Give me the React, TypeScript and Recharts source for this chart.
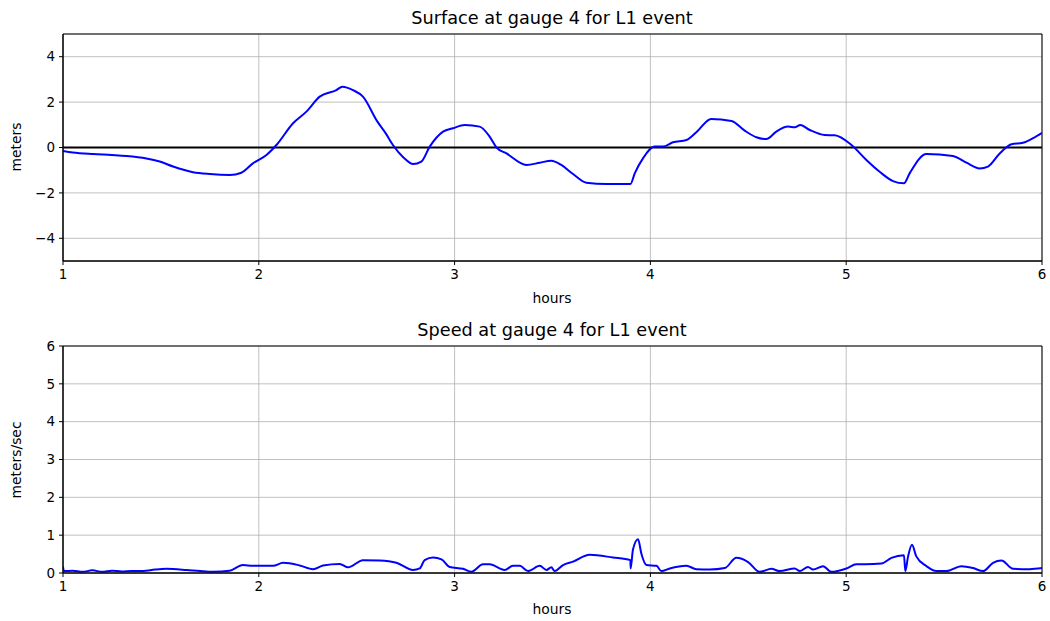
import {
  LineChart,
  Line,
  XAxis,
  YAxis,
  CartesianGrid,
  ReferenceLine,
  ReferenceArea,
} from "recharts";

// surface elevation (hours, meters)
const surfaceHours = [
  1.0, 1.05, 1.153, 1.25, 1.324, 1.426, 1.494, 1.562, 1.664, 1.75, 1.852, 1.911,
  1.97, 2.039, 2.09, 2.175, 2.243, 2.311, 2.396, 2.427, 2.481, 2.532, 2.605, 2.65,
  2.685, 2.74, 2.788, 2.83, 2.873, 2.941, 2.992, 3.052, 3.128, 3.179, 3.213, 3.265,
  3.367, 3.435, 3.494, 3.545, 3.605, 3.673, 3.775, 3.898, 3.92, 3.962, 4.022, 4.064,
  4.115, 4.184, 4.24, 4.31, 4.414, 4.482, 4.541, 4.592, 4.643, 4.703, 4.737, 4.766,
  4.814, 4.89, 4.941, 5.027, 5.103, 5.171, 5.239, 5.295, 5.324, 5.41, 5.545, 5.614,
  5.682, 5.724, 5.784, 5.844, 5.903, 5.954, 6.0,
];
const surfaceLevel = [
  -0.15, -0.22, -0.29, -0.33, -0.37, -0.48, -0.62, -0.84, -1.09, -1.17, -1.21, -1.11,
  -0.7, -0.33, 0.11, 1.07, 1.58, 2.24, 2.53, 2.68, 2.53, 2.24, 1.15, 0.6,
  0.11, -0.45, -0.73, -0.62, 0.04, 0.7, 0.85, 0.99, 0.92, 0.48, 0.01, -0.26,
  -0.77, -0.67, -0.58, -0.77, -1.17, -1.55, -1.61, -1.61, -1.14, -0.48, 0.04, 0.04,
  0.23, 0.33, 0.72, 1.26, 1.17, 0.74, 0.45, 0.37, 0.7, 0.92, 0.89, 0.99,
  0.77, 0.55, 0.54, 0.11, -0.55, -1.07, -1.48, -1.58, -1.14, -0.29, -0.37, -0.67,
  -0.92, -0.84, -0.26, 0.14, 0.21, 0.41, 0.65,
];

// current speed (hours, m/s)
const speedHours = [
  1.0, 1.005, 1.05, 1.1, 1.15, 1.2, 1.25, 1.3, 1.35, 1.409, 1.47, 1.528, 1.63, 1.7,
  1.766, 1.851, 1.919, 1.97, 2.073, 2.124, 2.209, 2.277, 2.328, 2.413, 2.456, 2.532,
  2.617, 2.703, 2.788, 2.822, 2.847, 2.89, 2.933, 2.975, 3.043, 3.086, 3.145, 3.179,
  3.256, 3.298, 3.333, 3.375, 3.435, 3.469, 3.494, 3.511, 3.554, 3.605, 3.69, 3.809,
  3.898, 3.899, 3.911, 3.937, 3.954, 3.98, 4.031, 4.056, 4.099, 4.184, 4.235, 4.303,
  4.38, 4.439, 4.499, 4.558, 4.618, 4.66, 4.737, 4.763, 4.805, 4.831, 4.882, 4.924,
  5.001, 5.052, 5.099, 5.18, 5.231, 5.295, 5.302, 5.316, 5.336, 5.358, 5.41, 5.461,
  5.512, 5.588, 5.648, 5.699, 5.75, 5.793, 5.852, 5.937, 6.0,
];
const speedValue = [
  0.17, 0.05, 0.06, 0.03, 0.07, 0.03, 0.06, 0.04, 0.05, 0.05, 0.09, 0.11, 0.08, 0.05,
  0.03, 0.06, 0.21, 0.19, 0.19, 0.27, 0.2, 0.1, 0.2, 0.24, 0.15, 0.34,
  0.33, 0.27, 0.08, 0.12, 0.34, 0.41, 0.36, 0.16, 0.11, 0.03, 0.23, 0.23,
  0.08, 0.19, 0.19, 0.05, 0.19, 0.08, 0.15, 0.05, 0.21, 0.3, 0.48, 0.41,
  0.34, 0.12, 0.62, 0.89, 0.51, 0.21, 0.19, 0.05, 0.12, 0.19, 0.1, 0.09,
  0.13, 0.4, 0.29, 0.03, 0.11, 0.05, 0.12, 0.05, 0.16, 0.09, 0.18, 0.03,
  0.12, 0.23, 0.23, 0.25, 0.4, 0.47, 0.05, 0.44, 0.75, 0.44, 0.18, 0.05,
  0.05, 0.18, 0.13, 0.05, 0.27, 0.33, 0.11, 0.1, 0.13,
];

const hourTicks = [1, 2, 3, 4, 5, 6];
const surfaceTicks = [-4, -2, 0, 2, 4];
const speedTicks = [0, 1, 2, 3, 4, 5, 6];

const surfaceData = surfaceHours.map((h, i) => ({ hours: h, eta: surfaceLevel[i] }));
const speedData = speedHours.map((h, i) => ({ hours: h, speed: speedValue[i] }));

const FONT = "DejaVu Sans";
const tickStyle = { fill: "#000", fontSize: 13.5, fontFamily: FONT };
const minusFmt = (v: number) => String(v).replace("-", "\u2212");

const label = (text: string, x: number, y: number, size: number, rotate = false) => (
  <div
    style={{
      position: "absolute",
      left: x,
      top: y,
      transform: `translate(-50%, -50%)${rotate ? " rotate(-90deg)" : ""}`,
      fontFamily: FONT,
      fontSize: size,
      color: "#000",
      whiteSpace: "nowrap",
      lineHeight: 1,
    }}
  >
    {text}
  </div>
);

const App = () => {
  return (
    <div
      style={{
        position: "absolute",
        left: 0,
        top: 0,
        width: 1050,
        height: 621,
        background: "#fff",
        overflow: "hidden",
      }}
    >
      {/* top panel */}
      <div style={{ position: "absolute", left: 0, top: 0 }}>
        <LineChart
          width={1050}
          height={290}
          data={surfaceData}
          margin={{ top: 34, right: 8, bottom: 0, left: 0 }}
        >
          <CartesianGrid stroke="#b0b0b0" strokeWidth={0.8} />
          <XAxis
            dataKey="hours"
            type="number"
            domain={[1, 6]}
            ticks={hourTicks}
            allowDataOverflow
            height={29}
            tickSize={4}
            tickMargin={4}
            tick={tickStyle}
            stroke="#000"
          />
          <YAxis
            type="number"
            domain={[-5, 5]}
            ticks={surfaceTicks}
            allowDataOverflow
            width={63}
            tickSize={4}
            tickMargin={4}
            tick={tickStyle}
            tickFormatter={minusFmt}
            stroke="#000"
          />
          <ReferenceArea x1={1} x2={6} y1={-5} y2={5} fill="none" stroke="#000" strokeWidth={1} />
          <ReferenceLine y={0} stroke="#000" strokeWidth={1.8} />
          <Line
            dataKey="eta"
            type="monotone"
            stroke="#0000ff"
            strokeWidth={2}
            dot={false}
            isAnimationActive={false}
          />
        </LineChart>
      </div>

      {/* bottom panel */}
      <div style={{ position: "absolute", left: 0, top: 310 }}>
        <LineChart
          width={1050}
          height={292}
          data={speedData}
          margin={{ top: 36, right: 8, bottom: 0, left: 0 }}
        >
          <CartesianGrid stroke="#b0b0b0" strokeWidth={0.8} />
          <XAxis
            dataKey="hours"
            type="number"
            domain={[1, 6]}
            ticks={hourTicks}
            allowDataOverflow
            height={29}
            tickSize={4}
            tickMargin={4}
            tick={tickStyle}
            stroke="#000"
          />
          <YAxis
            type="number"
            domain={[0, 6]}
            ticks={speedTicks}
            allowDataOverflow
            width={63}
            tickSize={4}
            tickMargin={4}
            tick={tickStyle}
            stroke="#000"
          />
          <ReferenceArea x1={1} x2={6} y1={0} y2={6} fill="none" stroke="#000" strokeWidth={1} />
          <Line
            dataKey="speed"
            type="monotone"
            stroke="#0000ff"
            strokeWidth={2}
            dot={false}
            isAnimationActive={false}
          />
        </LineChart>
      </div>

      {label("Surface at gauge 4 for L1 event", 552, 19, 17.7)}
      {label("hours", 552, 299, 13.9)}
      {label("meters", 17, 147, 13.9, true)}
      {label("Speed at gauge 4 for L1 event", 552, 331, 17.7)}
      {label("hours", 552, 610, 13.9)}
      {label("meters/sec", 17, 460, 13.9, true)}
    </div>
  );
};

export default App;
